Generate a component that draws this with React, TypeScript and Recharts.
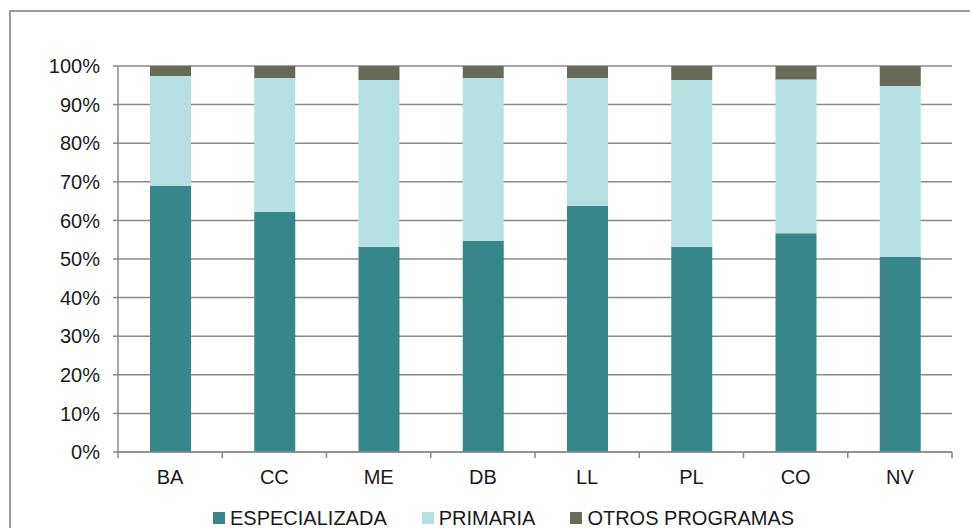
import { BarChart, Bar, XAxis, YAxis, CartesianGrid, Legend } from 'recharts'

const categories = ['BA', 'CC', 'ME', 'DB', 'LL', 'PL', 'CO', 'NV']
const especializada = [69.0, 62.2, 53.2, 54.7, 63.8, 53.2, 56.7, 50.5]
const primaria = [28.4, 34.7, 43.2, 42.2, 33.1, 43.2, 39.8, 44.3]
const otros = [2.6, 3.1, 3.6, 3.1, 3.1, 3.6, 3.5, 5.2]
const yTicks = [0, 10, 20, 30, 40, 50, 60, 70, 80, 90, 100]

const series = [
  { key: 'esp', name: 'ESPECIALIZADA', color: '#368789' },
  { key: 'pri', name: 'PRIMARIA', color: '#b5e1e2' },
  { key: 'otr', name: 'OTROS PROGRAMAS', color: '#676a58' },
]

const data = categories.map((c, i) => ({
  name: c,
  esp: especializada[i],
  pri: primaria[i],
  otr: otros[i],
}))

const W = 970
const H = 528
const FONT = '"Liberation Sans", Arial, sans-serif'
const AXIS = '#8a8a8a'
const BAND = (952 - 118) / categories.length

function XTick(props: any) {
  const { x, y, payload, index } = props
  const half = BAND / 2
  return (
    <g>
      <line x1={x - half} x2={x - half} y1={y} y2={y + 6} stroke={AXIS} strokeWidth={1.5} />
      {index === categories.length - 1 && (
        <line x1={x + half} x2={x + half} y1={y} y2={y + 6} stroke={AXIS} strokeWidth={1.5} />
      )}
      <text x={x} y={y + 32} textAnchor="middle" fontSize={20} fontFamily={FONT} fill="#1a1a1a">
        {payload.value}
      </text>
    </g>
  )
}

function LegendContent() {
  return (
    <div style={{ display: 'flex', paddingLeft: 213, fontFamily: FONT, fontSize: 20, color: '#1a1a1a', lineHeight: '22px' }}>
      {series.map((s) => (
        <div key={s.key} style={{ display: 'flex', alignItems: 'center', marginRight: 35 }}>
          <span style={{ width: 12, height: 12, background: s.color, display: 'inline-block', marginRight: 5 }} />
          <span>{s.name}</span>
        </div>
      ))}
    </div>
  )
}

export default function App() {
  return (
    <div style={{ position: 'absolute', left: 0, top: 0, width: W, height: H, overflow: 'hidden', background: '#fff' }}>
      <div
        style={{
          position: 'absolute',
          left: 9,
          top: 10,
          width: W + 20,
          height: H + 20,
          borderLeft: '2px solid #9c9c9c',
          borderTop: '2px solid #9c9c9c',
        }}
      />
      <BarChart
        width={W}
        height={H}
        data={data}
        margin={{ top: 66, right: 18, left: 0, bottom: 40 }}
        style={{ position: 'absolute', left: 0, top: 0 }}
      >
        <CartesianGrid vertical={false} stroke={AXIS} strokeWidth={1.5} />
        <XAxis
          dataKey="name"
          height={36}
          stroke={AXIS}
          strokeWidth={1.5}
          tickLine={false}
          tickSize={0}
          tickMargin={0}
          tick={<XTick />}
          interval={0}
        />
        <YAxis
          width={118}
          domain={[0, 100]}
          ticks={yTicks}
          interval={0}
          tickFormatter={(v: number) => `${v}%`}
          stroke={AXIS}
          strokeWidth={1.5}
          tickSize={5}
          tickMargin={13}
          tick={{ fontSize: 20, fontFamily: FONT, fill: '#1a1a1a' }}
        />
        {series.map((s) => (
          <Bar
            key={s.key}
            dataKey={s.key}
            name={s.name}
            stackId="a"
            fill={s.color}
            barSize={41}
            isAnimationActive={false}
          />
        ))}
        <Legend
          layout="horizontal"
          verticalAlign="middle"
          align="center"
          content={<LegendContent />}
          wrapperStyle={{ top: 507, left: 0, width: W }}
        />
      </BarChart>
    </div>
  )
}
